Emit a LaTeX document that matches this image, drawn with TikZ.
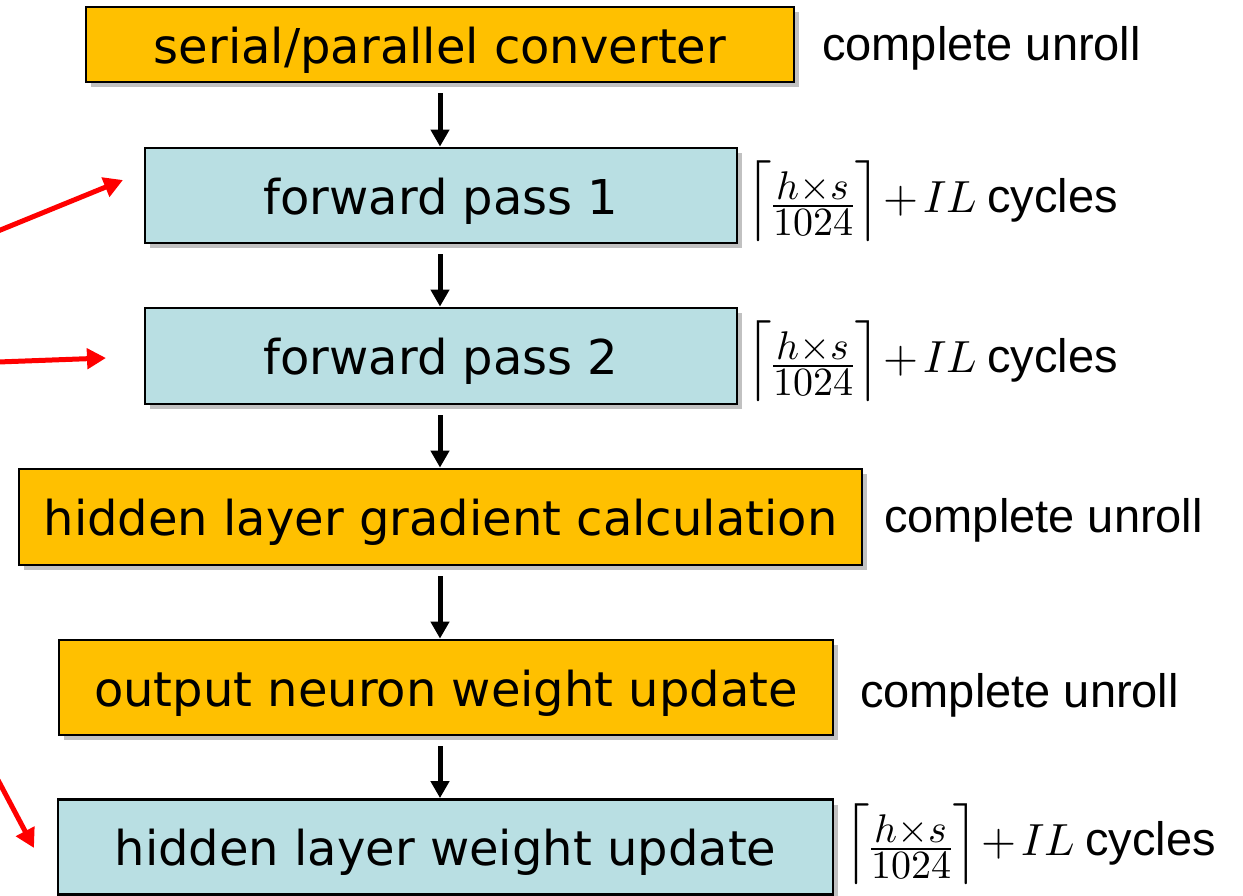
\documentclass[tikz,border=0pt]{standalone}
\usepackage{fontspec}
\usepackage{amsmath}
\usepackage{unicode-math}
\setmainfont{Liberation Sans}
\setmathfont{Latin Modern Math}
\newfontfamily\boxfont{DejaVu Sans}
\DeclareMathSizes{45}{45}{40}{30}
\usetikzlibrary{shadows,arrows.meta}
\definecolor{boxorange}{RGB}{255,192,0}
\definecolor{boxblue}{RGB}{185,223,227}
\definecolor{arrred}{RGB}{255,0,0}
\tikzset{
  stage/.style={draw=black, line width=2.8pt, inner sep=0pt, anchor=center,
    text height=37pt, text depth=0pt,
    font=\boxfont\fontsize{48}{50}\selectfont,
    drop shadow={shadow xshift=5pt, shadow yshift=-5pt, opacity=0.35, fill=black!70}},
  orangebox/.style={stage, fill=boxorange},
  bluebox/.style={stage, fill=boxblue},
  side/.style={anchor=base west, inner sep=0pt, font=\fontsize{47}{50}\selectfont},
  flow/.style={line width=5pt, shorten <=10pt, -{Triangle[length=17pt,width=18pt]}},
  redarr/.style={draw=arrred, line width=5pt, -{Triangle[length=19pt,width=20pt]}}
}
\newcommand{\ceilfrac}{{\fontsize{45}{50}\selectfont\medmuskip=2mu$\left\lceil\lower5pt\hbox{$\frac{h\times s}{1024}$}\right\rceil + IL$}\hspace{-3pt} cycles}
\begin{document}
\begin{tikzpicture}[x=1pt,y=-1pt]
\useasboundingbox (0,0) rectangle (1243,895);
\node[orangebox, minimum width=708pt, minimum height=75pt] (b1) at (440,44.5) {serial/parallel converter};
\node[bluebox, minimum width=592pt, minimum height=95pt] (b2) at (441,195.5) {forward pass 1};
\node[bluebox, minimum width=592pt, minimum height=96pt] (b3) at (441,356) {forward pass 2};
\node[orangebox, minimum width=843pt, minimum height=96pt] (b4) at (440.5,517) {hidden layer gradient calculation};
\node[orangebox, minimum width=774pt, minimum height=95pt] (b5) at (446,687.5) {output neuron weight update};
\node[bluebox, minimum width=775pt, minimum height=95pt] (b6) at (445.5,847) {hidden layer weight update};

\node[side] (l1) at (822,60) {complete unroll};
\node[side] (l2) at (748,212) {\ceilfrac};
\node[side] (l3) at (748,372) {\ceilfrac};
\node[side] (l4) at (884,532) {complete unroll};
\node[side] (l5) at (860,707) {complete unroll};
\node[side] (l6) at (846,855) {\ceilfrac};

\draw[flow] (b1.south -| 440,0) -- (b2.north -| 440,0);
\draw[flow] (b2.south -| 440,0) -- (b3.north -| 440,0);
\draw[flow] (b3.south -| 440,0) -- (b4.north -| 440,0);
\draw[flow] (b4.south -| 440,0) -- (b5.north -| 440,0);
\draw[flow] (b5.south -| 440,0) -- (b6.north -| 440,0);

\coordinate (r1s) at (-2,231);
\coordinate (r1e) at (123,180);
\coordinate (r2s) at (-2,362);
\coordinate (r2e) at (106,358);
\coordinate (r3s) at (-2,780);
\coordinate (r3e) at (34,848);
\draw[redarr] (r1s) -- (r1e);
\draw[redarr] (r2s) -- (r2e);
\draw[redarr] (r3s) -- (r3e);
\end{tikzpicture}
\end{document}
